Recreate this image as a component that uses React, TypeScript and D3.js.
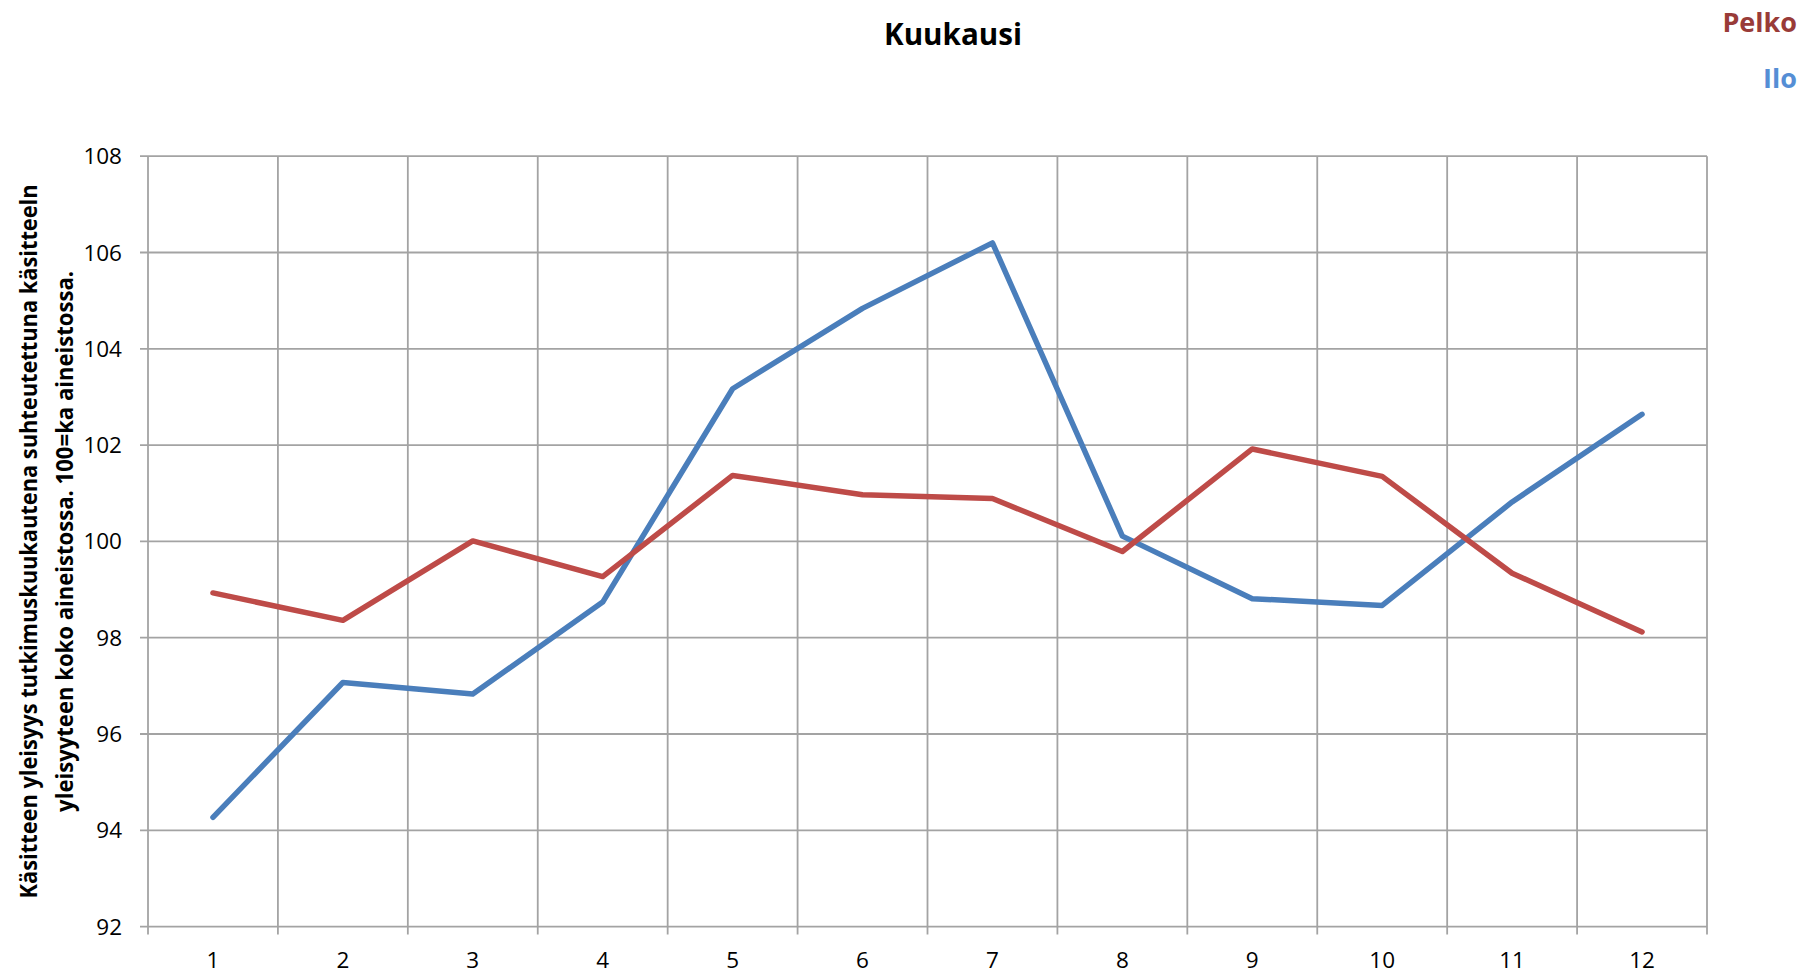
import React from "react";
import * as d3 from "d3";

const months = ["1", "2", "3", "4", "5", "6", "7", "8", "9", "10", "11", "12"];
const ilo = [94.27, 97.07, 96.83, 98.74, 103.17, 104.84, 106.2, 100.11, 98.81, 98.67, 100.82, 102.64];
const pelko = [98.93, 98.36, 100.01, 99.27, 101.37, 100.97, 100.89, 99.79, 101.92, 101.35, 99.34, 98.12];
const yTicks = [92, 94, 96, 98, 100, 102, 104, 106, 108];
const title = "Kuukausi";
const yTitle1 = "Käsitteen yleisyys tutkimuskuukautena suhteutettuna käsitteeln";
const yTitle2 = "yleisyyteen koko aineistossa. 100=ka aineistossa.";
const seriesNames = ["Pelko", "Ilo"];

const W = 1806;
const H = 974;
const left = 148;
const right = 1707;
const top = 156.2;
const bottom = 926.6;
const font = "'Open Sans', 'Noto Sans', sans-serif";
const grid = "#a3a3a3";

export default function App() {
  const x = d3.scaleBand<string>().domain(months).range([left, right]).paddingInner(0).paddingOuter(0);
  const y = d3.scaleLinear().domain([92, 108]).range([bottom, top]);
  const line = d3
    .line<number>()
    .x((_, i) => (x(months[i]) as number) + x.bandwidth() / 2)
    .y((d) => y(d));
  const boundaries = months.map((m) => x(m) as number).concat([right]);
  const cy = (top + bottom) / 2;

  return (
    <svg
      width={W}
      height={H}
      style={{ position: "absolute", left: 0, top: 0, background: "#fff" }}
      fontFamily={font}
    >
      <rect x={0} y={0} width={W} height={H} fill="#fff" />
      {yTicks.map((t) => (
        <line key={"h" + t} x1={left - 8} x2={right} y1={y(t)} y2={y(t)} stroke={grid} strokeWidth={1.8} />
      ))}
      {boundaries.map((b, i) => (
        <line key={"v" + i} x1={b} x2={b} y1={top} y2={bottom + 8} stroke={grid} strokeWidth={1.8} />
      ))}
      {yTicks.map((t) => (
        <text key={"yl" + t} x={122} y={y(t) + 8} textAnchor="end" fontSize={22.5} fill="#000">
          {t}
        </text>
      ))}
      {months.map((m) => (
        <text
          key={"xl" + m}
          x={(x(m) as number) + x.bandwidth() / 2}
          y={968}
          textAnchor="middle"
          fontSize={22.5}
          fill="#000"
        >
          {m}
        </text>
      ))}
      <path d={line(ilo) || ""} fill="none" stroke="#4a7ebb" strokeWidth={5.5} strokeLinecap="round" strokeLinejoin="round" />
      <path d={line(pelko) || ""} fill="none" stroke="#be4b48" strokeWidth={5.5} strokeLinecap="round" strokeLinejoin="round" />
      <text x={953} y={45} textAnchor="middle" fontSize={30} fontWeight="bold" fill="#000" textLength={138} lengthAdjust="spacingAndGlyphs">
        {title}
      </text>
      <text x={1797} y={32} textAnchor="end" fontSize={27} fontWeight="bold" fill="#993b38">
        {seriesNames[0]}
      </text>
      <text x={1797} y={88} textAnchor="end" fontSize={27} fontWeight="bold" fill="#558ed5">
        {seriesNames[1]}
      </text>
      <text
        transform={`translate(37,${cy}) rotate(-90)`}
        textAnchor="middle"
        fontSize={24}
        fontWeight="bold"
        fill="#000"
        textLength={714}
        lengthAdjust="spacingAndGlyphs"
      >
        {yTitle1}
      </text>
      <text
        transform={`translate(73,${cy}) rotate(-90)`}
        textAnchor="middle"
        fontSize={24}
        fontWeight="bold"
        fill="#000"
        textLength={541}
        lengthAdjust="spacingAndGlyphs"
      >
        {yTitle2}
      </text>
    </svg>
  );
}
